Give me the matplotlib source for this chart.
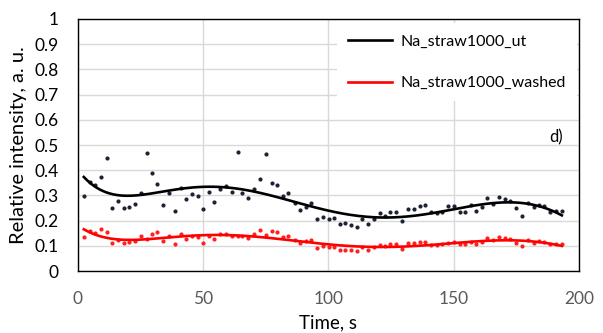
import numpy as np
import matplotlib.pyplot as plt

plt.rcParams['font.family'] = ['Lato', 'DejaVu Sans']

# Data
time_s = [2.4, 4.8, 6.8, 9.1, 11.5, 13.7, 16.1, 18.4, 20.4, 22.7,
          25.2, 27.5, 29.7, 31.7, 34.1, 36.5, 38.8, 41.1, 43.2, 45.5,
          47.9, 50.1, 52.5, 54.4, 56.8, 59.2, 61.5, 63.9, 65.7, 68.1,
          70.5, 72.8, 75.2, 77.5, 79.5, 81.9, 84.1, 86.5, 88.8, 91.0,
          93.2, 95.5, 97.9, 100.1, 102.1, 104.5, 106.8, 109.2, 111.5, 113.5,
          115.9, 118.1, 120.5, 122.8, 124.8, 127.2, 129.5, 131.9, 134.1, 136.4,
          138.5, 140.8, 143.2, 145.5, 147.9, 150.1, 152.4, 154.5, 156.8, 159.1,
          161.2, 163.5, 165.9, 168.1, 170.4, 172.5, 175.1, 177.2, 179.5, 181.9,
          183.9, 186.1, 188.4, 190.8, 193.2]

na_ut = [0.299, 0.354, 0.341, 0.374, 0.450, 0.251, 0.276, 0.251, 0.255, 0.267,
         0.308, 0.467, 0.388, 0.345, 0.262, 0.308, 0.238, 0.331, 0.284, 0.304,
         0.298, 0.247, 0.312, 0.275, 0.325, 0.337, 0.312, 0.472, 0.308, 0.291,
         0.325, 0.365, 0.463, 0.350, 0.341, 0.299, 0.308, 0.269, 0.242, 0.255,
         0.271, 0.205, 0.214, 0.205, 0.210, 0.187, 0.192, 0.181, 0.176, 0.205,
         0.187, 0.205, 0.229, 0.218, 0.234, 0.234, 0.200, 0.247, 0.247, 0.258,
         0.262, 0.234, 0.229, 0.234, 0.258, 0.258, 0.234, 0.234, 0.262, 0.239,
         0.253, 0.288, 0.266, 0.295, 0.284, 0.279, 0.251, 0.219, 0.271, 0.253,
         0.262, 0.258, 0.234, 0.238, 0.239]

na_washed = [0.135, 0.159, 0.152, 0.168, 0.155, 0.111, 0.122, 0.111, 0.115, 0.119,
             0.139, 0.126, 0.148, 0.153, 0.118, 0.139, 0.106, 0.147, 0.126, 0.139,
             0.135, 0.111, 0.139, 0.126, 0.147, 0.147, 0.139, 0.139, 0.139, 0.132,
             0.148, 0.164, 0.142, 0.159, 0.155, 0.135, 0.139, 0.122, 0.112, 0.118,
             0.122, 0.093, 0.099, 0.095, 0.095, 0.082, 0.082, 0.082, 0.078, 0.095,
             0.085, 0.095, 0.102, 0.099, 0.106, 0.106, 0.089, 0.111, 0.111, 0.115,
             0.115, 0.104, 0.102, 0.106, 0.111, 0.115, 0.106, 0.106, 0.115, 0.106,
             0.115, 0.131, 0.122, 0.135, 0.131, 0.126, 0.111, 0.099, 0.122, 0.111,
             0.118, 0.115, 0.106, 0.106, 0.106]

labels = ["Na_straw1000_ut", "Na_straw1000_washed"]

fig = plt.figure(figsize=(6.03, 3.33), dpi=100)
ax = fig.add_axes([0.129, 0.186, 0.831, 0.757])

t = np.array(time_s)
tt = np.linspace(t[0], t[-1], 300)

# black series: points + polynomial trend
ax.plot(t, na_ut, 'o', color='#1c2333', ms=3.0, mew=0, zorder=3)
fit_ut = np.polyval(np.polyfit(t, na_ut, 6), tt)
ax.plot(tt, fit_ut, color='black', lw=1.9, label=labels[0], zorder=4)

# red series
ax.plot(t, na_washed, 'o', color='#ff2020', ms=3.0, mew=0, zorder=3)
fit_w = np.polyval(np.polyfit(t, na_washed, 6), tt)
ax.plot(tt, fit_w, color='#ff0000', lw=1.9, label=labels[1], zorder=4)

ax.set_xlim(0, 200)
ax.set_ylim(0, 1)
ax.set_xticks([0, 50, 100, 150, 200])
ax.set_yticks(np.arange(0, 1.01, 0.1))
ax.set_yticklabels(['0', '0.1', '0.2', '0.3', '0.4', '0.5', '0.6', '0.7', '0.8', '0.9', '1'])
ax.grid(True, color='#d9d9d9', lw=1)
ax.set_axisbelow(True)
for s in ax.spines.values():
    s.set_color('black')
    s.set_linewidth(1)

ax.tick_params(axis='both', length=0, labelsize=12.5)
ax.tick_params(axis='x', pad=14, colors='#595959')
ax.tick_params(axis='y', pad=14, colors='black')

ax.set_ylabel('Relative intensity, a. u.', fontsize=14.5, labelpad=5)
ax.set_xlabel('Time, s', fontsize=13.5, labelpad=6)

ax.text(191, 0.53, 'd)', fontsize=12, ha='center', va='center')

leg = ax.legend(loc='upper right', bbox_to_anchor=(1.012, 1.014), fontsize=11.5,
                labelspacing=1.7, handlelength=2.7, handletextpad=0.55,
                borderpad=0.7, frameon=True, fancybox=False, framealpha=1)
leg.get_frame().set_edgecolor('white')
leg.get_frame().set_linewidth(0)

fig.savefig('out.png', dpi=100)
